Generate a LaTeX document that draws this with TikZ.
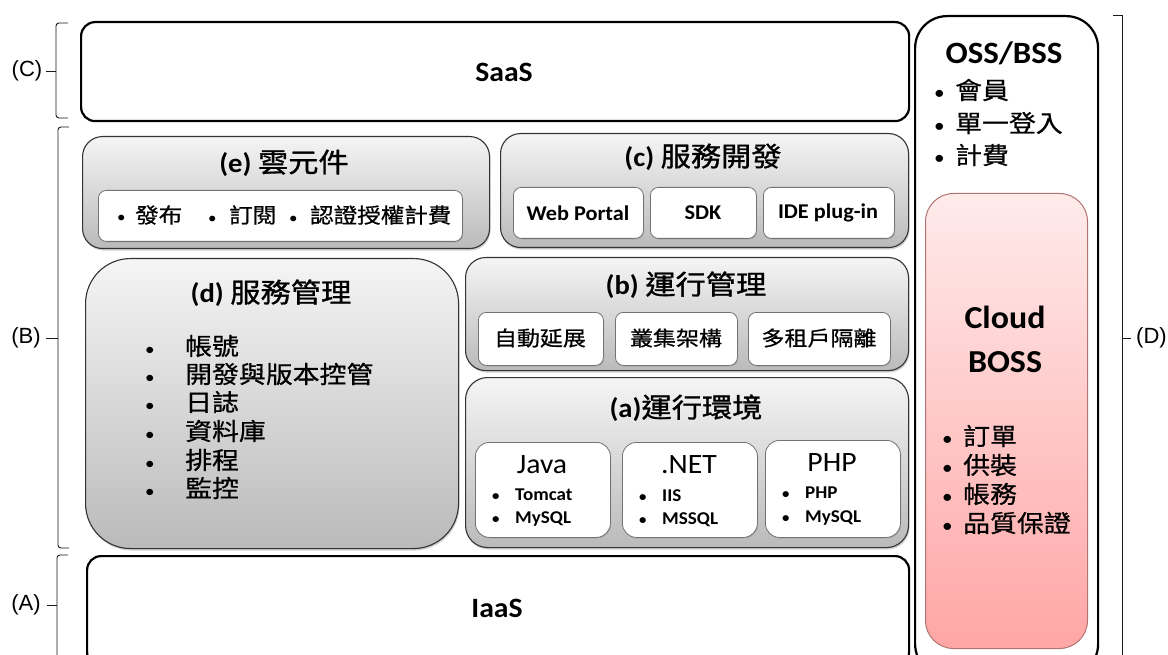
\documentclass[tikz,border=0pt]{standalone}
\usepackage{fontspec}
\setmainfont{Carlito}[FakeStretch=1.06]
\newfontfamily\tc{Noto Sans CJK TC}[FakeStretch=1.12, FakeBold=0.7]
\newfontfamily\tct{Noto Sans CJK TC}[FakeStretch=1.12, FakeBold=1.1]
\newfontfamily\arialf{Liberation Sans}
\usetikzlibrary{shadows}
\newcommand\fsz[1]{\fontsize{#1}{#1}\selectfont}
\newcommand\bulx[1]{{\fontsize{#1}{#1}\selectfont•}}
\begin{document}
\begin{tikzpicture}[x=1pt,y=-1pt,
  outer/.style={draw=black, line width=2.2pt, rounded corners=14pt, fill=white, anchor=north west, inner sep=0pt},
  graybox/.style={draw=black!80, line width=1.1pt, top color=black!4, bottom color=black!27, anchor=north west, inner sep=0pt,
     drop shadow={shadow xshift=1pt, shadow yshift=-2pt, opacity=0.35}},
  whitebox/.style={draw=black!55, line width=0.8pt, fill=white, rounded corners=8pt, anchor=north west, inner sep=0pt,
     drop shadow={shadow xshift=0.8pt, shadow yshift=-1.2pt, opacity=0.3}},
  pinkbox/.style={draw=red!45!black!55, line width=1pt, top color=red!8, bottom color=red!35!white, rounded corners=28pt, anchor=north west, inner sep=0pt},
  txt/.style={inner sep=0pt, anchor=center},
  ltxt/.style={inner sep=0pt, anchor=west},
  big/.style={txt, font=\bfseries\fsz{28}},
  title/.style={txt, font=\fsz{27}},
  cjkitem/.style={ltxt, font=\fsz{24}},
  smallitem/.style={ltxt, font=\bfseries\fsz{18}},
  brc/.style={line width=0.9pt, draw=black!90},
  lab/.style={txt, font=\arialf\fsz{22}}
]
\clip (0,0) rectangle (1168,655);
\fill[white] (0,0) rectangle (1168,655);

% outer layer boxes
\node[outer, minimum width=828pt, minimum height=99pt] (saas) at (80,21) {};
\node[big] (saast) at (504,72) {SaaS};
\node[outer, minimum width=822pt, minimum height=110pt] (iaas) at (86,555) {};
\node[big] (iaast) at (497,608) {IaaS};
\node[outer, rounded corners=32pt, minimum width=183pt, minimum height=660pt] (oss) at (914,15) {};
\node[txt, font=\bfseries\fsz{31}] (osst) at (1004,53) {OSS/BSS};
\foreach \t/\yy [count=\i] in {會員/90, 單一登入/123, 計費/155}
  \node[cjkitem] (oss\i) at (934,\yy) {\makebox[21pt][l]{\bulx{20}}{\tc \t}};

% Cloud BOSS
\node[pinkbox, minimum width=162pt, minimum height=455pt] (boss) at (925,193) {};
\node[txt, font=\bfseries\fsz{32}] (bosst1) at (1005,317) {Cloud};
\node[txt, font=\bfseries\fsz{32}] (bosst2) at (1005,362) {BOSS};
\foreach \t/\yy [count=\i] in {訂單/436, 供裝/465, 帳務/494, 品質保證/523}
  \node[cjkitem] (boss\i) at (942,\yy) {\makebox[21pt][l]{\bulx{20}}{\tc \t}};

% (e)
\node[graybox, rounded corners=20pt, minimum width=407pt, minimum height=112pt] (e) at (82,136) {};
\node[title] (et) at (284,163) {\textbf{(e)} {\tct 雲元件}};
\node[whitebox, minimum width=364pt, minimum height=51pt] (ein) at (98,190) {};
\node[ltxt, font=\fsz{21}] (e1) at (117,215) {\makebox[18pt][l]{\bulx{16}}{\tc 發布}};
\node[ltxt, font=\fsz{21}] (e2) at (208,215) {\makebox[21pt][l]{\bulx{16}}{\tc 訂閱}};
\node[ltxt, font=\fsz{21}] (e3) at (289,215) {\makebox[21pt][l]{\bulx{16}}{\tc 認證授權計費}};

% (c)
\node[graybox, rounded corners=20pt, minimum width=408pt, minimum height=114pt] (c) at (500,133) {};
\node[title] (ct) at (703,157) {\textbf{(c)} {\tct 服務開發}};
\node[whitebox, minimum width=130pt, minimum height=51pt] (wp) at (513,187) {};
\node[whitebox, minimum width=106pt, minimum height=51pt] (sdk) at (650,187) {};
\node[whitebox, minimum width=131pt, minimum height=51pt] (ide) at (763,187) {};
\node[txt, font=\bfseries\fsz{21}] (wpt) at (578,213) {Web Portal};
\node[txt, font=\bfseries\fsz{21}] (sdkt) at (703,213) {SDK};
\node[txt, font=\bfseries\fsz{21}] (idet) at (828,213) {IDE plug-in};

% (d)
\node[graybox, rounded corners=45pt, minimum width=373pt, minimum height=290pt] (d) at (85,258) {};
\node[title] (dt) at (271,293) {\textbf{(d)} {\tct 服務管理}};
\foreach \t/\yy [count=\i] in {帳號/346, 開發與版本控管/374, 日誌/402, 資料庫/431, 排程/460, 監控/488}
  \node[cjkitem] (d\i) at (145,\yy) {\makebox[40pt][l]{\bulx{18}}{\tc \t}};

% (b)
\node[graybox, rounded corners=20pt, minimum width=443pt, minimum height=113pt] (b) at (465,257) {};
\node[title] (bt) at (686,285) {\textbf{(b)} {\tct 運行管理}};
\node[whitebox, minimum width=125pt, minimum height=53pt] (b1) at (478,312) {};
\node[whitebox, minimum width=122pt, minimum height=53pt] (b2) at (615,312) {};
\node[whitebox, minimum width=142pt, minimum height=53pt] (b3) at (748,312) {};
\node[txt, font=\fsz{20.5}] (b1t) at (540,338) {\tc 自動延展};
\node[txt, font=\fsz{20.5}] (b2t) at (676,338) {\tc 叢集架構};
\node[txt, font=\fsz{20.5}] (b3t) at (819,338) {\tc 多租戶隔離};

% (a)
\node[graybox, rounded corners=22pt, minimum width=443pt, minimum height=170pt] (a) at (465,377) {};
\node[title] (at) at (686,408) {\textbf{(a)}{\tct 運行環境}};
\node[whitebox, rounded corners=14pt, minimum width=135pt, minimum height=95pt] (java) at (475,442) {};
\node[whitebox, rounded corners=14pt, minimum width=135pt, minimum height=95pt] (net) at (622,442) {};
\node[whitebox, rounded corners=14pt, minimum width=135pt, minimum height=97pt] (php) at (765,440) {};
\node[txt, font=\fsz{28}] (javat) at (542,465) {Java};
\node[txt, font=\fsz{28}] (nett) at (689,465) {.NET};
\node[txt, font=\fsz{28}] (phpt) at (832,463) {PHP};
\node[smallitem] (j1) at (492,495) {\makebox[23pt][l]{\bulx{14}}Tomcat};
\node[smallitem] (j2) at (492,519) {\makebox[23pt][l]{\bulx{14}}MySQL};
\node[smallitem] (n1) at (639,496) {\makebox[23pt][l]{\bulx{14}}IIS};
\node[smallitem] (n2) at (639,520) {\makebox[23pt][l]{\bulx{14}}MSSQL};
\node[smallitem] (p1) at (782,493) {\makebox[23pt][l]{\bulx{14}}PHP};
\node[smallitem] (p2) at (782,518) {\makebox[23pt][l]{\bulx{14}}MySQL};

% braces and labels
\draw[brc, rounded corners=3pt] (68,23) -- (56,23) -- (56,118) -- (68,118);
\draw[brc] (56,71) -- (46,71);
\node[lab] (lC) at (27,71) {(C)};
\draw[brc, rounded corners=3pt] (69,127) -- (58,127) -- (58,548) -- (69,548);
\draw[brc] (58,338) -- (46,338);
\node[lab] (lB) at (26,338) {(B)};
\draw[brc, rounded corners=3pt] (68,555) -- (57,555) -- (57,670);
\draw[brc] (57,605) -- (47,605);
\node[lab] (lA) at (26,605) {(A)};
\draw[brc] (1113,15) -- (1122,15) -- (1122,670);
\draw[brc] (1122,338) -- (1131,338);
\node[lab, anchor=west] (lD) at (1136,338) {(D)};
\end{tikzpicture}
\end{document}
